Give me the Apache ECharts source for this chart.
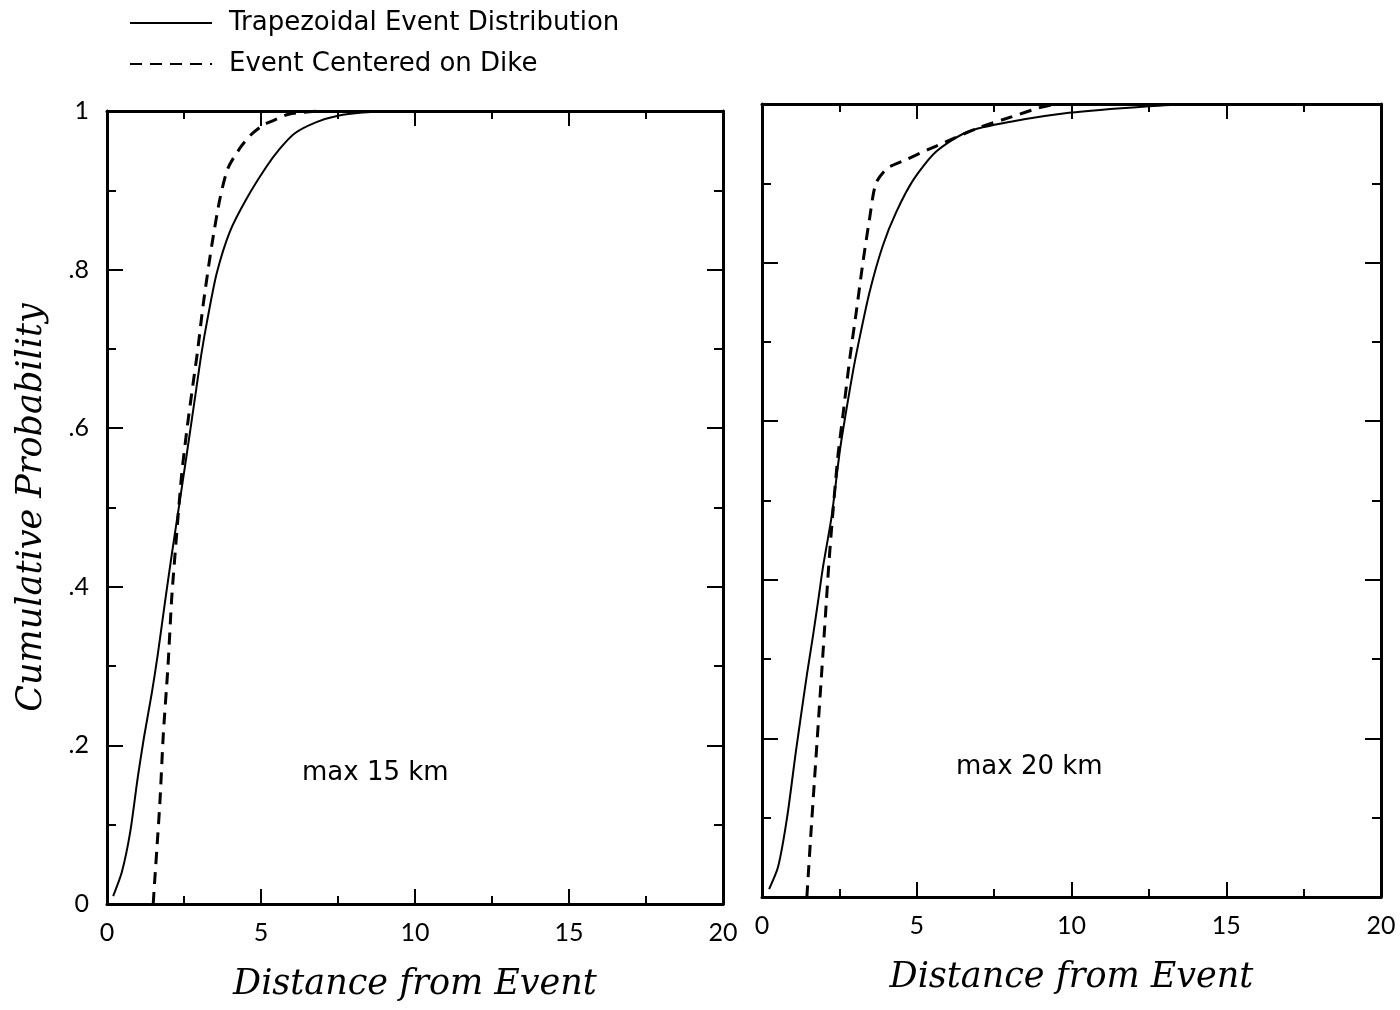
<!DOCTYPE html>
<html>
<head>
<meta charset="utf-8">
<script src="https://cdn.jsdelivr.net/npm/echarts@6/dist/echarts.min.js"></script>
<style>
html,body{margin:0;padding:0;background:#fff;}
#chart{width:1400px;height:1010px;}
</style>
</head>
<body>
<div id="chart"></div>
<script>
// ---- Data ----
const seriesNames = ['Trapezoidal Event Distribution', 'Event Centered on Dike'];
const panelLabels = ['max 15 km', 'max 20 km'];
const xTicks = [0, 5, 10, 15, 20];
const yTickLabels = ['0', '.2', '.4', '.6', '.8', '1'];

// Panel 1 (max 15 km)
const trap15 = [[0.2,0.01],[0.48,0.04],[0.75,0.09],[1.0,0.16],[1.2,0.21],[1.45,0.265],[1.65,0.315],[1.88,0.38],[2.1,0.44],[2.37,0.51],[2.6,0.57],[2.9,0.65],[3.07,0.695],[3.25,0.735],[3.56,0.795],[3.99,0.848],[4.54,0.89],[5.18,0.93],[5.6,0.952],[6.1,0.972],[6.8,0.986],[7.5,0.994],[8.3,0.998],[9.3,1.0]];
const dike15 = [[1.5,0.0],[1.55,0.03],[1.62,0.07],[1.72,0.13],[1.83,0.215],[1.98,0.30],[2.1,0.385],[2.24,0.456],[2.42,0.54],[2.6,0.60],[2.79,0.655],[2.95,0.70],[3.12,0.755],[3.4,0.83],[3.67,0.89],[3.93,0.928],[4.35,0.955],[4.7,0.971],[5.06,0.982],[5.4,0.988],[5.9,0.996],[6.9,1.0]];

// Panel 2 (max 20 km)
const trap20 = [[0.23,0.01],[0.52,0.038],[0.81,0.10],[1.1,0.185],[1.45,0.28],[1.65,0.33],[1.82,0.375],[1.97,0.416],[2.25,0.48],[2.52,0.564],[2.75,0.62],[2.95,0.665],[3.1,0.695],[3.47,0.762],[3.9,0.821],[4.34,0.864],[4.9,0.905],[5.63,0.94],[6.64,0.965],[8.08,0.978],[9.92,0.989],[12.4,0.997],[14,1.0]];
const dike20 = [[1.45,0.0],[1.58,0.08],[1.7,0.15],[1.82,0.22],[1.94,0.29],[2.05,0.355],[2.16,0.42],[2.28,0.48],[2.45,0.555],[2.61,0.606],[2.84,0.68],[3.04,0.736],[3.26,0.80],[3.47,0.854],[3.68,0.90],[4.05,0.919],[4.61,0.929],[5.34,0.942],[5.92,0.952],[6.93,0.969],[8.08,0.984],[8.94,0.995],[9.5,1.0]];

// ---- Styling helpers ----
const tickFont = 'Lato';
const textFont = 'DejaVu Sans';
const serifFont = 'DejaVu Serif';
const ink = '#000';

function xAxis(gridIndex, position, showLabel, name) {
  return {
    type: 'value', gridIndex: gridIndex, position: position,
    min: xTicks[0], max: xTicks[xTicks.length - 1], interval: xTicks[1] - xTicks[0],
    axisLine: { show: true, onZero: false, lineStyle: { color: ink, width: 3 } },
    axisTick: { show: true, inside: true, length: 15, lineStyle: { color: ink, width: 2 } },
    minorTick: { show: true, splitNumber: 2, length: 8, lineStyle: { color: ink, width: 2 } },
    axisLabel: { show: showLabel, margin: 16, fontFamily: tickFont, fontSize: 25, color: ink },
    splitLine: { show: false }, minorSplitLine: { show: false },
    name: name || '', nameLocation: 'middle', nameGap: 63,
    nameTextStyle: { fontFamily: serifFont, fontStyle: 'italic', fontSize: 35, color: ink }
  };
}
function yAxis(gridIndex, position, showLabel, name) {
  return {
    type: 'value', gridIndex: gridIndex, position: position,
    min: 0, max: 1, interval: 0.2,
    axisLine: { show: true, onZero: false, lineStyle: { color: ink, width: 3 } },
    axisTick: { show: true, inside: true, length: 16, lineStyle: { color: ink, width: 2 } },
    minorTick: { show: true, splitNumber: 2, length: 9, lineStyle: { color: ink, width: 2 } },
    axisLabel: {
      show: showLabel, margin: 18, fontFamily: tickFont, fontSize: 25, color: ink,
      formatter: function (v) { return yTickLabels[Math.round(v * 5)]; }
    },
    splitLine: { show: false }, minorSplitLine: { show: false },
    name: name || '', nameLocation: 'middle', nameGap: 58,
    nameTextStyle: { fontFamily: serifFont, fontStyle: 'italic', fontSize: 35, color: ink }
  };
}
function lineSeries(name, data, idx, dashed) {
  return {
    type: 'line', name: name, data: data, xAxisIndex: idx, yAxisIndex: idx,
    symbol: 'none', smooth: 0.25, clip: false,
    lineStyle: dashed ? { color: ink, width: 3, type: [12, 8] } : { color: ink, width: 2 },
    itemStyle: { color: ink }
  };
}

const chart = echarts.init(document.getElementById('chart'), null, { renderer: 'canvas' });
chart.setOption({
  backgroundColor: '#fff',
  animation: false,
  legend: {
    data: seriesNames, orient: 'vertical', left: 124, top: 5,
    itemWidth: 82, itemHeight: 14, itemGap: 15,
    itemStyle: { opacity: 0 },
    textStyle: { fontFamily: textFont, fontSize: 26, color: ink, padding: [0, 0, 0, 12] },
    selectedMode: false
  },
  grid: [
    { left: 107, right: 677, top: 111, bottom: 106 },
    { left: 762, right: 19, top: 104, bottom: 113 }
  ],
  xAxis: [
    xAxis(0, 'bottom', true, 'Distance from Event'),
    xAxis(1, 'bottom', true, 'Distance from Event'),
    xAxis(0, 'top', false),
    xAxis(1, 'top', false)
  ],
  yAxis: [
    yAxis(0, 'left', true, 'Cumulative Probability'),
    yAxis(1, 'left', false),
    yAxis(0, 'right', false),
    yAxis(1, 'right', false)
  ],
  graphic: [
    { type: 'text', left: 302, top: 760, style: { text: panelLabels[0], font: '26px "' + textFont + '"', fill: ink } },
    { type: 'text', left: 956, top: 754, style: { text: panelLabels[1], font: '26px "' + textFont + '"', fill: ink } }
  ],
  series: [
    lineSeries(seriesNames[0], trap15, 0, false),
    lineSeries(seriesNames[1], dike15, 0, true),
    lineSeries(seriesNames[0], trap20, 1, false),
    lineSeries(seriesNames[1], dike20, 1, true)
  ]
});
</script>
</body>
</html>
